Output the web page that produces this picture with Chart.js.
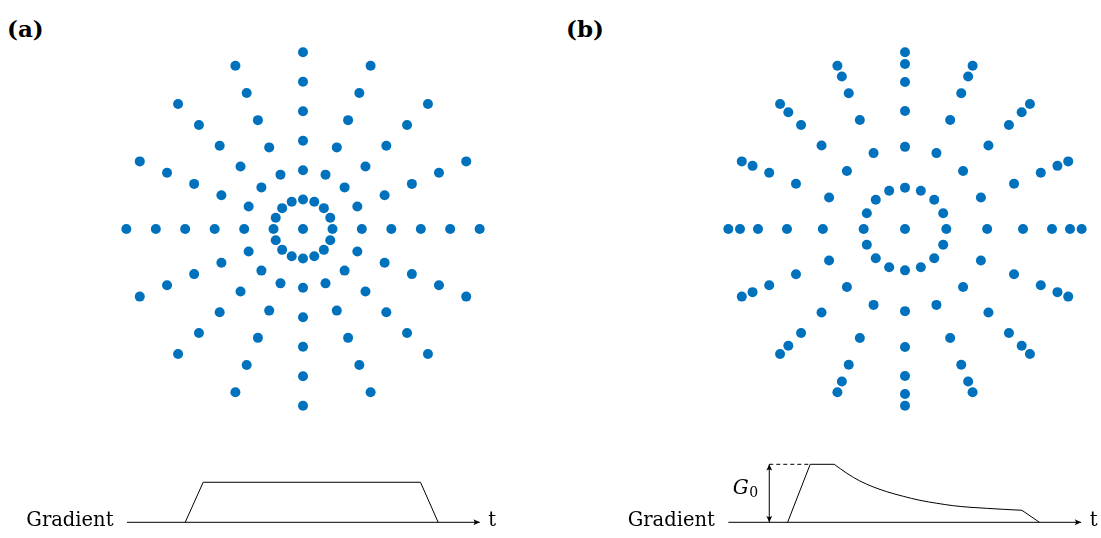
<!DOCTYPE html>
<html>
<head>
<meta charset="utf-8">
<title>Radial k-space sampling</title>
<script src="https://cdn.jsdelivr.net/npm/chart.js@4.4.1/dist/chart.umd.min.js"></script>
<style>
  html, body { margin: 0; padding: 0; background: #fff; }
  body { width: 1101px; height: 538px; position: relative; overflow: hidden; }
  canvas { position: absolute; }
  .panel-label {
    position: absolute;
    font-family: "DejaVu Serif", serif;
    font-weight: bold;
    font-size: 23px;
    line-height: 1;
    color: #000;
  }
</style>
</head>
<body>
<div class="panel-label" style="left:7px; top:17px;">(a)</div>
<div class="panel-label" style="left:566px; top:17px;">(b)</div>

<canvas id="kspaceA" width="424" height="424" style="left:91px; top:17px;"></canvas>
<canvas id="kspaceB" width="424" height="424" style="left:693px; top:17px;"></canvas>
<canvas id="gradA" width="520" height="98" style="left:0px; top:440px;"></canvas>
<canvas id="gradB" width="500" height="98" style="left:601px; top:440px;"></canvas>

<script>
// ---- sampling pattern: 16 radial spokes, radius normalised to k_max = 1 ----
const SPOKES = 16;
const radiiUniform  = [0.167, 0.333, 0.500, 0.667, 0.833, 1.000];
const radiiVariable = [0.234, 0.465, 0.668, 0.832, 0.934, 1.000];

// ---- gradient waveforms: time (a.u.) vs amplitude (units of G0) ----
const axisTime = [0, 100];
const axisGrad = [0, 0];

// (a) trapezoidal readout gradient
const trapTime = [16.5, 21.6, 83.2, 88.2];
const trapGrad = [0, 0.69, 0.69, 0];

// (b) ramp-up and G0 plateau
const rampTime = [16.8, 23.2, 30.0];
const rampGrad = [0, 1, 1];
// (b) decaying part of the gradient
const decayTime = [30.0, 33.6, 37.3, 41.1, 44.9, 49.6, 54.3, 59.1, 63.8, 68.5, 73.2, 77.9, 83.2];
const decayGrad = [1.000, 0.845, 0.712, 0.609, 0.528, 0.448, 0.379, 0.328, 0.286, 0.259, 0.241, 0.224, 0.207];
// (b) final ramp-down
const rampDownTime = [83.2, 88.2];
const rampDownGrad = [0.207, 0];
// (b) dashed G0 guide and the G0 dimension marker
const guideTime = [11.6, 23.2];
const guideGrad = [1, 1];
const g0MarkerTime = 11.6;
const g0MarkerGrad = [0, 1];

const axisLabel = 'Gradient';
const timeLabel = 't';
const dotColor = '#0072BD';

function toPoints(xs, ys) {
  return xs.map((x, i) => ({ x: x, y: ys[i] }));
}

function spokePoints(radii) {
  const pts = [{ x: 0, y: 0 }];
  for (let s = 0; s < SPOKES; s++) {
    const th = 2 * Math.PI * s / SPOKES;
    radii.forEach(r => pts.push({ x: r * Math.cos(th), y: r * Math.sin(th) }));
  }
  return pts;
}

function kspaceChart(id, radii) {
  return new Chart(document.getElementById(id), {
    type: 'scatter',
    data: {
      datasets: [{
        data: spokePoints(radii),
        backgroundColor: dotColor,
        pointBackgroundColor: dotColor,
        pointRadius: 5,
        pointBorderWidth: 0,
        pointHoverRadius: 5
      }]
    },
    options: {
      responsive: false,
      animation: false,
      events: [],
      layout: { padding: 0, autoPadding: false },
      plugins: { legend: { display: false }, tooltip: { enabled: false }, title: { display: false } },
      scales: {
        x: { type: 'linear', min: -1.2, max: 1.2, display: false },
        y: { type: 'linear', min: -1.2, max: 1.2, display: false }
      }
    }
  });
}

kspaceChart('kspaceA', radiiUniform);
kspaceChart('kspaceB', radiiVariable);

// draws a small filled arrow head with its tip at (x, y) pointing along angle a
function arrowHead(ctx, x, y, a) {
  const len = 6.5, half = 3;
  ctx.save();
  ctx.translate(x, y);
  ctx.rotate(a);
  ctx.beginPath();
  ctx.moveTo(0, 0);
  ctx.lineTo(-len, -half);
  ctx.quadraticCurveTo(-len * 0.6, 0, -len, half);
  ctx.closePath();
  ctx.fillStyle = '#000';
  ctx.fill();
  ctx.restore();
}

const waveformDecor = {
  id: 'waveformDecor',
  afterDatasetsDraw(chart, args, opts) {
    const ctx = chart.ctx;
    const xs = chart.scales.x, ys = chart.scales.y;
    const y0 = ys.getPixelForValue(0);
    const xStart = xs.getPixelForValue(axisTime[0]);
    const xEnd = xs.getPixelForValue(axisTime[axisTime.length - 1]);

    // time axis arrow head
    arrowHead(ctx, xEnd, y0, 0);

    ctx.save();
    ctx.fillStyle = '#000';
    ctx.textBaseline = 'alphabetic';
    ctx.font = '19.5px "DejaVu Serif", serif';
    ctx.textAlign = 'right';
    ctx.fillText(axisLabel, xStart - 13.5, y0 + 3.8);
    ctx.textAlign = 'left';
    ctx.fillText(timeLabel, xEnd + 8.5, y0 + 3.8);

    if (opts && opts.g0) {
      const xm = xs.getPixelForValue(g0MarkerTime);
      const yTop = ys.getPixelForValue(g0MarkerGrad[1]);
      const yBot = ys.getPixelForValue(g0MarkerGrad[0]);
      arrowHead(ctx, xm, yTop, -Math.PI / 2);
      arrowHead(ctx, xm, yBot, Math.PI / 2);
      const yMid = (yTop + yBot) / 2;
      ctx.textAlign = 'left';
      ctx.font = 'italic 20px "DejaVu Serif", serif';
      const gx = xm - 36.5;
      ctx.fillText('G', gx, yMid + 0.5);
      const gw = ctx.measureText('G').width;
      ctx.font = '14px "DejaVu Serif", serif';
      ctx.fillText('0', gx + gw + 0.5, yMid + 3.5);
    }
    ctx.restore();
  }
};

function lineSet(points, extra) {
  return Object.assign({
    data: points,
    borderColor: '#000',
    borderWidth: 1,
    pointRadius: 0,
    fill: false,
    tension: 0
  }, extra || {});
}

function gradientChart(id, datasets, xmin, xmax, withG0) {
  return new Chart(document.getElementById(id), {
    type: 'line',
    data: { datasets: datasets },
    options: {
      responsive: false,
      animation: false,
      events: [],
      layout: { padding: 0, autoPadding: false },
      plugins: {
        legend: { display: false },
        tooltip: { enabled: false },
        title: { display: false },
        waveformDecor: { g0: withG0 }
      },
      scales: {
        x: { type: 'linear', min: xmin, max: xmax, display: false },
        y: { type: 'linear', min: -0.2707, max: 1.419, display: false }
      }
    },
    plugins: [waveformDecor]
  });
}

gradientChart('gradA', [
  lineSet(toPoints(axisTime, axisGrad)),
  lineSet(toPoints(trapTime, trapGrad))
], -36.0, 111.4, false);

gradientChart('gradB', [
  lineSet(toPoints(axisTime, axisGrad)),
  lineSet(toPoints(rampTime, rampGrad)),
  lineSet(toPoints(decayTime, decayGrad), { cubicInterpolationMode: 'monotone' }),
  lineSet(toPoints(rampDownTime, rampDownGrad)),
  lineSet(toPoints(guideTime, guideGrad), { borderDash: [4, 3] }),
  lineSet(toPoints([g0MarkerTime, g0MarkerTime], g0MarkerGrad))
], -36.1, 105.63, true);
</script>
</body>
</html>
